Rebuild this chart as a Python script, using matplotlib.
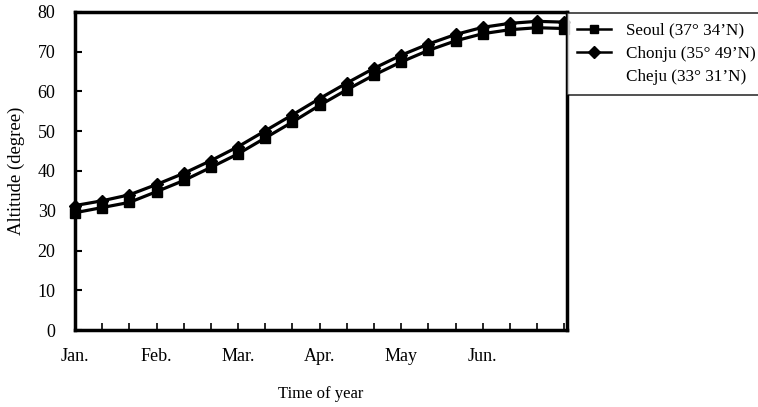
import matplotlib
matplotlib.use("Agg")
import matplotlib.pyplot as plt
from matplotlib.lines import Line2D

plt.rcParams['font.family'] = ['Liberation Serif', 'DejaVu Serif']

# Sampling points roughly every ten days, Jan. through the end of Jun.
steps = list(range(19))
month_labels = ["Jan.", "Feb.", "Mar.", "Apr.", "May", "Jun."]
month_positions = [0, 3, 6, 9, 12, 15]

# Noon solar altitude (degree)
seoul = [29.5, 30.8, 32.1, 34.8, 37.6, 40.9, 44.3, 48.3, 52.3, 56.5,
         60.4, 64.1, 67.4, 70.3, 72.7, 74.5, 75.5, 76.0, 75.8]
chonju = [31.3, 32.5, 34.0, 36.6, 39.4, 42.6, 46.1, 50.1, 54.1, 58.2,
          62.1, 65.8, 69.1, 71.9, 74.3, 76.1, 77.1, 77.6, 77.4]

legend_labels = ["Seoul (37\u00b0 34\u2019N)", "Chonju (35\u00b0 49\u2019N)",
                 "Cheju (33\u00b0 31\u2019N)"]

fig = plt.figure(figsize=(7.58, 4.07), dpi=100)
ax = fig.add_axes([0.099, 0.189, 0.649, 0.782])

ax.plot(steps, seoul, color="black", lw=2.3, marker="s", ms=6.5,
        clip_on=False, zorder=3)
ax.plot(steps, chonju, color="black", lw=2.3, marker="D", ms=6.5,
        clip_on=False, zorder=3)

ax.set_xlim(0, 18.1)
ax.set_ylim(0, 80)
ax.set_yticks(range(0, 81, 10))

# one tick per sample, month names every third tick
xlabels = [""] * len(steps)
for pos, name in zip(month_positions, month_labels):
    xlabels[pos] = name
ax.set_xticks(steps)
ax.set_xticklabels(xlabels, fontsize=13)

ax.tick_params(axis="y", direction="in", length=5, width=1.5, pad=14,
               labelsize=13)
ax.tick_params(axis="x", direction="in", length=5, width=1.2, pad=13)

for s in ax.spines.values():
    s.set_linewidth(2.5)

ax.set_ylabel("Altitude (degree)", fontsize=13.5, labelpad=9)
ax.set_xlabel("Time of year", fontsize=12, labelpad=15)

handles = [
    Line2D([], [], color="black", lw=1.8, marker="s", ms=6),
    Line2D([], [], color="black", lw=1.8, marker="D", ms=6),
    Line2D([], [], color="white", lw=1.8),
]
leg = fig.legend(handles, legend_labels, loc="upper left",
                 bbox_to_anchor=(0.748, 0.969), frameon=True, fancybox=False,
                 fontsize=12.3, handlelength=2.0, borderpad=0.6,
                 labelspacing=0.4, handletextpad=0.85, borderaxespad=0)
leg.get_frame().set_edgecolor("black")
leg.get_frame().set_linewidth(1.2)

fig.savefig("out.png", dpi=100)
